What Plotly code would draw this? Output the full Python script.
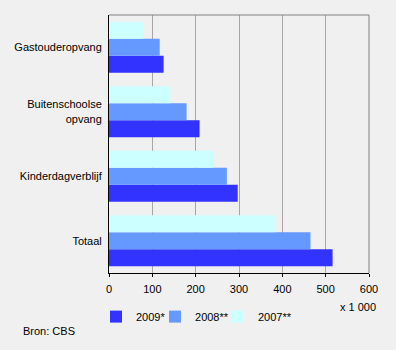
import plotly.graph_objects as go

# Kinderopvang: aantal kinderen per soort opvang (x 1 000)
categories = ["Gastouderopvang", "Buitenschoolse<br>opvang", "Kinderdagverblijf", "Totaal"]
series_names = ["2009*", "2008**", "2007**"]
values_2009 = [126, 209, 297, 516]
values_2008 = [117, 179, 272, 465]
values_2007 = [79, 142, 241, 385]
x_ticks = [0, 100, 200, 300, 400, 500, 600]

colors = ["#3333FF", "#6699FF", "#CCFFFF"]
bg = "#F0F0F0"
font = dict(family="Liberation Sans, Arial, sans-serif", size=11, color="#000000")

# one small legend per series so the entries can sit close together in a row
legend_ids = ["legend", "legend2", "legend3"]
legend_x = [-0.05, 0.177, 0.419]

fig = go.Figure()
for name, vals, col, lid in zip(series_names, [values_2009, values_2008, values_2007],
                                colors, legend_ids):
    fig.add_trace(go.Bar(
        y=categories, x=vals, name=name, orientation="h", legend=lid,
        marker=dict(color=col, line=dict(width=0)),
    ))

legend_style = dict(orientation="h", xanchor="left", y=-0.169, yanchor="middle",
                    bgcolor="rgba(0,0,0,0)", font=font, itemwidth=30)

fig.update_layout(
    width=396, height=350,
    paper_bgcolor=bg, plot_bgcolor=bg,
    font=font,
    margin=dict(l=109, r=27, t=15, b=77),
    barmode="group", bargap=0.21, bargroupgap=0,
    legend=dict(x=legend_x[0], **legend_style),
    legend2=dict(x=legend_x[1], **legend_style),
    legend3=dict(x=legend_x[2], **legend_style),
    showlegend=True,
)
fig.update_xaxes(
    range=[0, 600], tickvals=x_ticks, ticktext=[str(v) for v in x_ticks],
    showgrid=True, gridcolor="#A6A6A6", gridwidth=1,
    showline=True, linecolor="#000000", linewidth=1,
    ticks="outside", ticklen=3, tickcolor="#000000", ticklabelstandoff=3,
    zeroline=False, fixedrange=True,
)
fig.update_yaxes(
    categoryorder="array", categoryarray=categories[::-1],
    showgrid=False, showline=True, linecolor="#000000", linewidth=1,
    ticks="", ticklabelstandoff=4, zeroline=False, fixedrange=True,
)
# grey frame on top and right side of the plot area
fig.add_shape(type="line", xref="paper", yref="paper", x0=0, x1=1, y0=1, y1=1,
              line=dict(color="#808080", width=1))
fig.add_shape(type="line", xref="paper", yref="paper", x0=1, x1=1, y0=0, y1=1,
              line=dict(color="#808080", width=1))

fig.add_annotation(text="x 1 000", xref="paper", yref="paper", x=1.035, y=-0.13,
                   xanchor="right", yanchor="middle", showarrow=False, font=font)
fig.add_annotation(text="Bron: CBS", xref="paper", yref="paper", x=-0.338, y=-0.225,
                   xanchor="left", yanchor="middle", showarrow=False, font=font)

fig.write_html("out.html")
